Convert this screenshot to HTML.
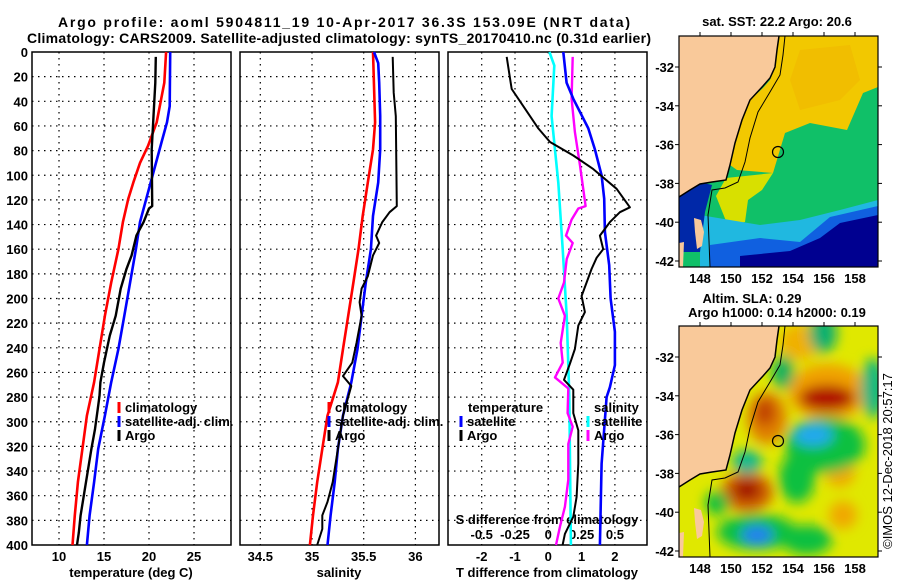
<!DOCTYPE html>
<html><head><meta charset="utf-8">
<style>
html,body{margin:0;padding:0;background:#fff;}
svg{display:block;font-family:"Liberation Sans",sans-serif;font-weight:bold;font-size:13px;}
</style></head>
<body>
<svg id="chart" width="900" height="580" viewBox="0 0 900 580" xmlns="http://www.w3.org/2000/svg">
<defs>
<filter id="blur" x="-20%" y="-20%" width="140%" height="140%"><feGaussianBlur stdDeviation="6"/></filter>
<clipPath id="clipTop"><rect x="679" y="36" width="199" height="231"/></clipPath>
<clipPath id="clipBot"><rect x="679" y="326" width="199" height="231"/></clipPath>
</defs>
<text x="344" y="27" text-anchor="middle" textLength="572" lengthAdjust="spacing" style="font-size:14px">Argo profile: aoml 5904811_19 10-Apr-2017 36.3S 153.09E (NRT data)</text>
<text x="339" y="43" text-anchor="middle" textLength="624" lengthAdjust="spacing" style="font-size:14px">Climatology: CARS2009. Satellite-adjusted climatology: synTS_20170410.nc (0.31d earlier)</text>
<g id="panels"></g>
<g id="maps"></g>
<text transform="translate(892,461) rotate(-90)" text-anchor="middle" style="font-weight:normal">©IMOS 12-Dec-2018 20:57:17</text>
</svg>
<script>
// ---------- data ----------
const depthTicks = [0,20,40,60,80,100,120,140,160,180,200,220,240,260,280,300,320,340,360,380,400];
const tempTicks = [10,15,20,25];
const salTicks = [34.5,35,35.5,36];
const tdiffTicks = [-2,-1,0,1,2];
const sdiffTicks = [-0.5,-0.25,0,0.25,0.5];
const sdiffLabels = ["-0.5","-0.25","0","0.25","0.5"];

const climTDepth = [0,25,57,76,90,106,119,138,160,187,214,241,268,295,322,349,376,400];
const climTVal   = [21.9,21.7,20.85,19.9,19.0,18.25,17.7,17.1,16.6,15.8,15.1,14.5,13.9,13.1,12.6,12.1,11.75,11.5];
const satTDepth = [0,44,57,73,92,119,138,160,187,214,241,268,295,322,349,376,400];
const satTVal   = [22.35,22.3,22.0,21.4,20.7,19.7,19.0,18.55,17.9,17.25,16.6,15.8,15.1,14.35,13.9,13.4,13.1];
const argoTDepth = [4,25,52,79,125,127,138,149,165,176,192,214,230,252,268,279,290,306,322,349,376,390,400];
const argoTVal   = [20.75,20.7,20.5,20.3,20.35,20.0,19.4,18.6,18.07,17.5,16.85,16.3,15.65,15.0,14.6,14.5,14.3,14.0,13.6,13.0,12.4,12.2,12.0];

const climSDepth = [0,57,79,106,133,160,187,214,241,268,295,322,349,376,400];
const climSVal   = [35.59,35.61,35.59,35.54,35.49,35.45,35.40,35.35,35.30,35.25,35.15,35.10,35.05,35.01,34.98];
const satSDepth = [0,9,25,52,79,106,133,160,187,214,241,268,295,322,349,376,400];
const satSVal   = [35.60,35.64,35.65,35.66,35.66,35.64,35.59,35.57,35.52,35.48,35.44,35.38,35.30,35.25,35.22,35.18,35.15];
const argoSDepth = [4,33,52,125,130,138,149,155,165,182,192,203,214,236,252,263,271,295,322,349,365,376,387,400];
const argoSVal   = [35.78,35.79,35.81,35.82,35.75,35.68,35.62,35.65,35.59,35.54,35.48,35.46,35.48,35.43,35.39,35.30,35.38,35.30,35.25,35.20,35.15,35.10,35.10,35.05];

const argoTdDepth = [4,25,30,46,62,73,84,95,111,126,130,138,149,160,167,176,187,198,211,222,241,253,266,274,293,307,334,361,377,391,400];
const argoTdVal   = [-1.25,-1.13,-1.1,-0.7,-0.3,0.05,0.75,1.35,2.05,2.45,2.15,1.85,1.55,1.65,1.45,1.3,1.15,1.0,1.1,0.9,0.8,0.65,0.47,0.75,0.75,0.9,0.9,0.85,0.75,0.5,0.43];
const satTdDepth = [0,25,38,62,79,100,119,146,173,200,227,254,272,280,334,400];
const satTdVal   = [0.45,0.55,0.75,1.2,1.4,1.6,1.68,1.7,1.83,1.87,2.0,2.0,1.85,1.75,1.6,1.55];
const satSdDepth = [0,11,52,106,160,214,279,400];
const satSdVal   = [0.008,0.045,0.025,0.075,0.108,0.138,0.158,0.17];
const argoSdDepth = [4,38,65,92,125,127,136,149,155,168,187,200,214,236,252,264,273,293,304,318,347,369,385,400];
const argoSdVal   = [0.183,0.175,0.2,0.238,0.28,0.225,0.175,0.133,0.183,0.138,0.118,0.075,0.125,0.093,0.108,0.05,0.15,0.145,0.183,0.15,0.15,0.125,0.088,0.058];

// ---------- scales ----------
const PT = 52, PB = 545;
const yD = d => PT + d*(PB-PT)/400;
const xT = t => 59 + (t-10)*9;
const xS = s => 260.3 + (s-34.5)*103.4;
const xTd = v => 548.3 + v*33.3;
const xSd = v => 548.3 + v*133.2;
const panels = [{x0:32,x1:231},{x0:240,x1:439},{x0:448,x1:647}];

const NS = "http://www.w3.org/2000/svg";
function el(tag, attrs, parent){ const e=document.createElementNS(NS,tag); for(const k in attrs) e.setAttribute(k,attrs[k]); parent.appendChild(e); return e; }
const gP = document.getElementById('panels');

panels.forEach((p,i)=>{
  const g = el('g',{},gP);
  
  
  depthTicks.forEach(d=>{
    if(d===0||d===400) return;
    const l = el('line',{x1:p.x0,x2:p.x1,y1:yD(d),y2:yD(d),stroke:'#000','stroke-width':1.2,'stroke-dasharray':'1.5,4.5'},g);
    
    
  });
  const vt = i===0? tempTicks.map(xT) : i===1? salTicks.map(xS) : tdiffTicks.map(xTd);
  vt.forEach(x=>{
    const l = el('line',{x1:x,x2:x,y1:PT,y2:PB,stroke:'#000','stroke-width':1.2,'stroke-dasharray':'1.5,4.5'},g);
    
    
  });
  const r = el('rect',{x:p.x0,y:PT,width:p.x1-p.x0,height:PB-PT,fill:'none',stroke:'#000','stroke-width':1.5},g);
  
  
});

depthTicks.forEach(d=>{
  const t = el('text',{x:28,y:yD(d)+5,'text-anchor':'end'},gP);
  t.textContent = d;
  
  
});
function xlabel(x,txt,name){ const t=el('text',{x:x,y:561,'text-anchor':'middle'},gP); t.textContent=txt;   }
tempTicks.forEach(v=>xlabel(xT(v),v,'temperature-tick-label'));
salTicks.forEach(v=>xlabel(xS(v),v,'salinity-tick-label'));
tdiffTicks.forEach(v=>xlabel(xTd(v),v,'tdiff-tick-label'));
function title(x,txt,name){ const t=el('text',{x:x,y:577,'text-anchor':'middle'},gP); t.textContent=txt;   }
title(131,'temperature (deg C)','temperature-axis-title');
title(339,'salinity','salinity-axis-title');
title(547,'T difference from climatology','tdiff-axis-title');

{
  const t=el('text',{x:547,y:524,'text-anchor':'middle'},gP); t.textContent='S difference from climatology';
  
  
  sdiffTicks.forEach((v,k)=>{
    const tt=el('text',{x:xSd(v),y:539,'text-anchor':'middle'},gP); tt.textContent=sdiffLabels[k];
    
    
  });
}

function series(depths, vals, xf, color, w, name){
  const pts = depths.map((d,k)=>xf(vals[k]).toFixed(1)+','+yD(d).toFixed(1)).join(' ');
  const pl = el('polyline',{points:pts,fill:'none',stroke:color,'stroke-width':w,'stroke-linejoin':'round'},gP);
  
  
}
series(climTDepth,climTVal,xT,'#ff0000',2.6,'climatology-temperature-line');
series(satTDepth,satTVal,xT,'#0000ff',2.6,'satellite-temperature-line');
series(argoTDepth,argoTVal,xT,'#000',2.4,'argo-temperature-line');
series(climSDepth,climSVal,xS,'#ff0000',2.6,'climatology-salinity-line');
series(satSDepth,satSVal,xS,'#0000ff',2.6,'satellite-salinity-line');
series(argoSDepth,argoSVal,xS,'#000',2,'argo-salinity-line');
series(satSdDepth,satSdVal,xSd,'#00ffff',2.6,'satellite-sdiff-line');
series(argoSdDepth,argoSdVal,xSd,'#ff00ff',2.4,'argo-sdiff-line');
series(satTdDepth,satTdVal,xTd,'#0000ff',2.6,'satellite-tdiff-line');
series(argoTdDepth,argoTdVal,xTd,'#000',2,'argo-tdiff-line');

function legend(x,y,color,txt,name){
  const r=el('rect',{x:x-1.5,y:y-10,width:3,height:11,fill:color},gP);
  
  
  const t=el('text',{x:x+6,y:y},gP); t.textContent=txt;
  
  
}
legend(119,412,'#ff0000','climatology','legend-climatology');
legend(119,426,'#0000ff','satellite-adj. clim.','legend-satellite-adj');
legend(119,440,'#000','Argo','legend-argo');
legend(329,412,'#ff0000','climatology','legend-climatology-s');
legend(329,426,'#0000ff','satellite-adj. clim.','legend-satellite-adj-s');
legend(329,440,'#000','Argo','legend-argo-s');
{ const t=el('text',{x:468,y:412},gP); t.textContent='temperature';   }
{ const t=el('text',{x:594,y:412},gP); t.textContent='salinity';   }
legend(461,426,'#0000ff','satellite','legend-t-satellite');
legend(461,440,'#000','Argo','legend-t-argo');
legend(588,426,'#00ffff','satellite','legend-s-satellite');
legend(588,440,'#ff00ff','Argo','legend-s-argo');

// ---------- maps ----------
const gM = document.getElementById('maps');
const lonTicks=[148,150,152,154,156,158];
const latTicks=[-32,-34,-36,-38,-40,-42];
const lonX = lon => 700 + (lon-148)*15.5;
const latY = (lat,off) => 67 + (-32-lat)*19.4 + off;
const landPts = [[679,36],[779,36],[777,50],[775,67],[770,78],[763,86],[750,100],[742,120],[735,143],[730,165],[726,180],[712,182],[700,184],[690,190],[679,197]];
const isoPts = [[785,36],[783,55],[780,75],[770,92],[758,112],[750,138],[745,162],[738,182],[725,188],[712,190],[708,215],[710,267]];
function pstr(pts,off){ return pts.map(p=>p[0]+','+(p[1]+off)).join(' '); }

function mapFrame(off, name, drawOcean){
  const g=el('g',{'clip-path': off? 'url(#clipBot)':'url(#clipTop)'},gM);
  
  
  drawOcean(g);
  const land=el('polygon',{points:pstr(landPts,off),fill:'#f9c99a'},g);
  
  
  const tas=el('polygon',{points:pstr([[694,218],[701,220],[704,232],[702,246],[697,249],[695,232]],off),fill:'#f9c99a'},g);
  
  
  const tas2=el('polygon',{points:pstr([[679,243],[684,242],[683,267],[679,267]],off),fill:'#f9c99a'},g);
  
  
  const coast=el('polyline',{points:pstr(landPts.slice(1),off),fill:'none',stroke:'#000','stroke-width':1.5},g);
  
  
  const iso=el('polyline',{points:pstr(isoPts,off),fill:'none',stroke:'#000','stroke-width':1},g);
  
  
  const fr=el('rect',{x:679,y:36+off,width:199,height:231,fill:'none',stroke:'#000','stroke-width':1.2},gM);
  
  
  const c=el('circle',{cx:778,cy:(off?441:152),r:5.5,fill:'none',stroke:'#000','stroke-width':1.2},gM);
  
  
  lonTicks.forEach(lon=>{
    el('line',{x1:lonX(lon),x2:lonX(lon),y1:32+off,y2:36+off,stroke:'#000'},gM);
    const t=el('text',{x:lonX(lon),y:(off?573:283),'text-anchor':'middle'},gM); t.textContent=lon;
    
    
  });
  latTicks.forEach(lat=>{
    el('line',{x1:878,x2:882,y1:latY(lat,off),y2:latY(lat,off),stroke:'#000'},gM);
    el('line',{x1:675,x2:679,y1:latY(lat,off),y2:latY(lat,off),stroke:'#000'},gM);
    const t=el('text',{x:674,y:latY(lat,off)+5,'text-anchor':'end'},gM); t.textContent=lat;
    
    
  });
}
mapFrame(0,'sst-map',g=>{
  el('rect',{x:679,y:36,width:199,height:231,fill:'#10c068'},g);
  el('polygon',{points:'779,36 878,36 878,87 863,93 847,130 810,123 785,133 773,173 737,170 730,165 735,145 742,120 750,100 763,88 770,80 775,67 777,50',fill:'#f2c800'},g);
  el('polygon',{points:'800,50 850,45 860,80 840,100 800,110 790,80',fill:'#f0b400',opacity:0.5},g);
  el('polygon',{points:'726,178 773,173 762,190 748,200 745,222 728,226 716,196',fill:'#d8e000'},g);
  el('polygon',{points:'700,215 760,225 800,220 840,210 878,200 878,267 700,267',fill:'#20b8e0'},g);
  el('polygon',{points:'710,245 760,238 800,242 830,217 878,206 878,267 710,267',fill:'#1060e0'},g);
  el('polygon',{points:'740,256 790,251 820,238 840,223 878,215 878,267 740,267',fill:'#000090'},g);
  el('polygon',{points:'679,197 700,182 712,185 705,212 700,252 679,252',fill:'#0028a8'},g);
});
mapFrame(290,'sla-map',g=>{
  el('rect',{x:679,y:326,width:199,height:231,fill:'#e0e800'},g);
  const b=el('g',{filter:'url(#blur)'},g);
  const blobs=[
    [828,392,40,28,'#f0a000'],[827,398,28,13,'#b01000'],[800,342,20,18,'#f0b000'],
    [767,418,20,26,'#e08000'],[765,412,10,14,'#c04000'],
    [747,492,26,20,'#d06000'],[747,490,14,10,'#a00800'],
    [840,472,15,15,'#f0a800'],[843,515,14,14,'#f0a800'],
    [825,445,40,28,'#10c040'],[813,435,20,11,'#20a8f0'],
    [823,333,14,20,'#10b070'],[783,372,11,17,'#10b060'],
    [747,462,15,12,'#10b890'],[797,478,18,25,'#10c040'],
    [757,532,40,18,'#10c040'],[757,535,16,10,'#2080f0'],
    [873,388,12,30,'#10b880'],[807,540,25,15,'#10c040'],[717,503,12,12,'#10c040']
  ];
  blobs.forEach(a=>el('ellipse',{cx:a[0],cy:a[1],rx:a[2],ry:a[3],fill:a[4]},b));
});
function mt(x,y,txt,name){ const t=el('text',{x:x,y:y,'text-anchor':'middle'},gM); t.textContent=txt;   }
mt(777,26,'sat. SST: 22.2 Argo: 20.6','sst-map-title');
mt(752,303,'Altim. SLA: 0.29','sla-map-title');
mt(777,317,'Argo h1000: 0.14 h2000: 0.19','sla-map-subtitle');
</script>
</body></html>
